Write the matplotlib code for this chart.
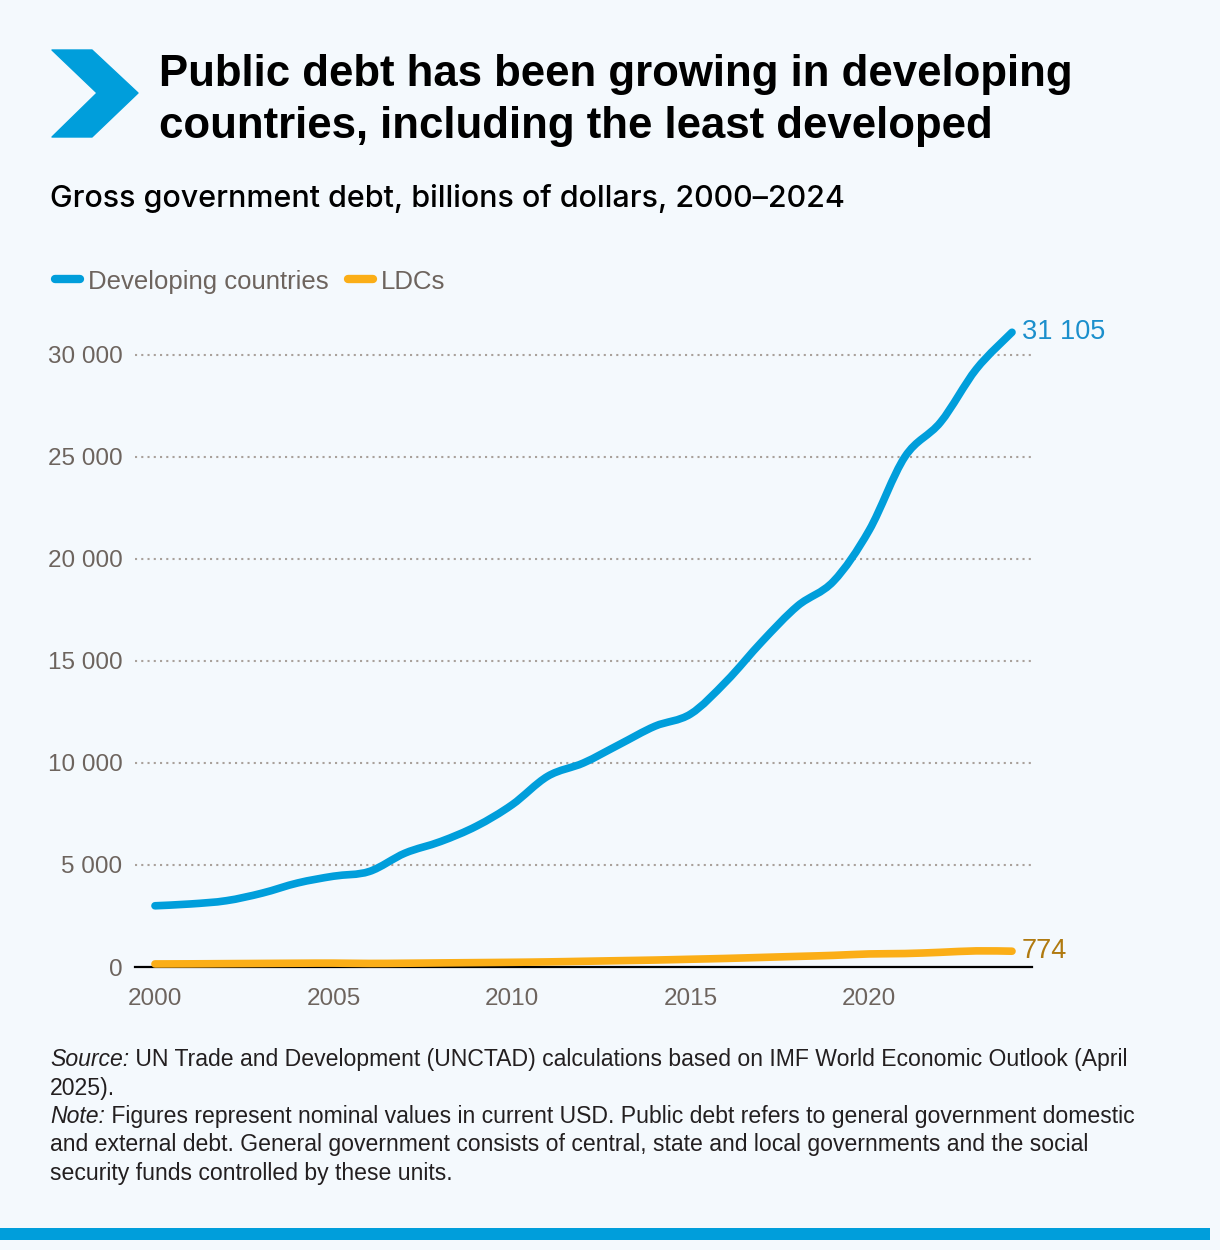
import matplotlib
matplotlib.use('Agg')
import matplotlib.pyplot as plt
from matplotlib.patches import Polygon, Rectangle, PathPatch
from matplotlib.lines import Line2D
from matplotlib.path import Path
from matplotlib.ticker import FuncFormatter

W, H = 1220, 1250

# data (billions of dollars)
years = list(range(2000, 2025))
developing = [3000, 3090, 3250, 3620, 4120, 4450, 4680, 5580, 6150, 6900,
              7950, 9350, 10000, 10900, 11800, 12400, 14000, 15950, 17700, 18900,
              21400, 25000, 26700, 29300, 31105]
ldcs = [150, 155, 165, 175, 185, 190, 175, 185, 200, 215,
        230, 250, 280, 310, 340, 380, 420, 470, 520, 570,
        640, 660, 720, 790, 774]
series_names = ['Developing countries', 'LDCs']
yticks = [0, 5000, 10000, 15000, 20000, 25000, 30000]
xticks = [2000, 2005, 2010, 2015, 2020]

BG = '#f4f9fd'
BLUE = '#009edb'
ORANGE = '#fbae17'
GREY = '#6d645e'
SANS = ['Liberation Sans', 'DejaVu Sans']


def px(x, y):
    # pixel coords (top-left origin) -> figure fraction
    return x / W, 1 - y / H


def smooth_path(xs, ys):
    # catmull-rom through the data points, as bezier segments
    verts = [(xs[0], ys[0])]
    codes = [Path.MOVETO]
    n = len(xs)
    for i in range(n - 1):
        x0, y0 = (xs[i - 1], ys[i - 1]) if i > 0 else (xs[i], ys[i])
        x1, y1 = xs[i], ys[i]
        x2, y2 = xs[i + 1], ys[i + 1]
        x3, y3 = (xs[i + 2], ys[i + 2]) if i + 2 < n else (x2, y2)
        c1 = (x1 + (x2 - x0) / 6, y1 + (y2 - y0) / 6)
        c2 = (x2 - (x3 - x1) / 6, y2 - (y3 - y1) / 6)
        verts += [c1, c2, (x2, y2)]
        codes += [Path.CURVE4] * 3
    return Path(verts, codes)


fig = plt.figure(figsize=(W / 100, H / 100), dpi=100, facecolor=BG)

# chevron
chev = [(52, 50), (92, 50), (138, 93), (92, 137), (52, 137), (97, 93)]
fig.patches.append(Polygon([px(*p) for p in chev], closed=True, transform=fig.transFigure,
                           facecolor=BLUE, edgecolor=BLUE, lw=1, joinstyle='round'))

# title + subtitle
fig.text(*px(159, 86), 'Public debt has been growing in developing', family=SANS,
         weight='bold', fontsize=31.5, color='black', va='baseline')
fig.text(*px(159, 138), 'countries, including the least developed', family=SANS,
         weight='bold', fontsize=31.5, color='black', va='baseline')
fig.text(*px(50, 207), 'Gross government debt, billions of dollars, 2000\u20132024',
         family=['Inter', 'Liberation Sans'], weight='medium',
         fontsize=21.9, color='black', va='baseline')

# legend
for (x0, name, col) in [(52, series_names[0], BLUE), (345, series_names[1], ORANGE)]:
    xa, ya = px(x0 + 3, 279)
    xb, _ = px(x0 + 28, 279)
    fig.lines.append(Line2D([xa, xb], [ya, ya], transform=fig.transFigure, color=col,
                            lw=6, solid_capstyle='round'))
    fig.text(*px(x0 + 36, 289), name, family=SANS, fontsize=18.5, color=GREY, va='baseline')

# chart
ax = fig.add_axes([135 / W, (H - 967) / H, (1032 - 135) / W, (967 - 314) / H])
ax.set_facecolor(BG)
for vals, col in [(developing, BLUE), (ldcs, ORANGE)]:
    ax.add_patch(PathPatch(smooth_path(years, vals), facecolor='none', edgecolor=col, lw=5.5,
                           capstyle='round', joinstyle='round', zorder=3, clip_on=False))
ax.set_xlim(1999.44, 2024.56)
ax.set_ylim(0, 32000)
ax.set_xticks(xticks)
ax.set_yticks(yticks)
ax.yaxis.set_major_formatter(FuncFormatter(lambda v, p: f'{int(v):,}'.replace(',', ' ')))
for s in ['top', 'right', 'left']:
    ax.spines[s].set_visible(False)
ax.spines['bottom'].set_color('black')
ax.spines['bottom'].set_linewidth(1.6)
ax.spines['bottom'].set_zorder(2)
ax.tick_params(axis='both', length=0, labelcolor=GREY, labelsize=17.5)
ax.tick_params(axis='x', pad=15)
ax.tick_params(axis='y', pad=9)
for lab in ax.get_xticklabels() + ax.get_yticklabels():
    lab.set_family(SANS)
for v in yticks[1:]:
    ax.axhline(v, color='#a9a19b', lw=1.5, ls=(0, (1, 2)), zorder=1)

ax.annotate(f'{developing[-1]:,}'.replace(',', ' '), (years[-1], developing[-1]),
            xytext=(7, 0), textcoords='offset points', va='center', ha='left',
            family=SANS, fontsize=19.5, color='#1b8fcc', annotation_clip=False)
ax.annotate(f'{ldcs[-1]}', (years[-1], ldcs[-1]), xytext=(7, 0), textcoords='offset points',
            va='center', ha='left', family=SANS, fontsize=19.5, color='#b07a10',
            annotation_clip=False)

# footnotes
renderer = fig.canvas.get_renderer()
notes = [
    ('Source:', ' UN Trade and Development (UNCTAD) calculations based on IMF World Economic Outlook (April'),
    ('', '2025).'),
    ('Note:', ' Figures represent nominal values in current USD. Public debt refers to general government domestic'),
    ('', 'and external debt. General government consists of central, state and local governments and the social'),
    ('', 'security funds controlled by these units.'),
]
base = 1066
for i, (it, rest) in enumerate(notes):
    y = base + i * 28.5
    x = 50
    if it:
        t = fig.text(*px(x, y), it, family=SANS, style='italic', fontsize=16.6, color='#231f20',
                     va='baseline')
        bb = t.get_window_extent(renderer)
        x = bb.x1
    fig.text(*px(x, y), rest, family=SANS, fontsize=16.6, color='#231f20', va='baseline')

# bottom bar
fig.patches.append(Rectangle(px(0, 1240), 1210 / W, 12 / H, transform=fig.transFigure,
                             facecolor=BLUE, edgecolor='none'))

fig.savefig('out.png', dpi=100, facecolor=BG)
